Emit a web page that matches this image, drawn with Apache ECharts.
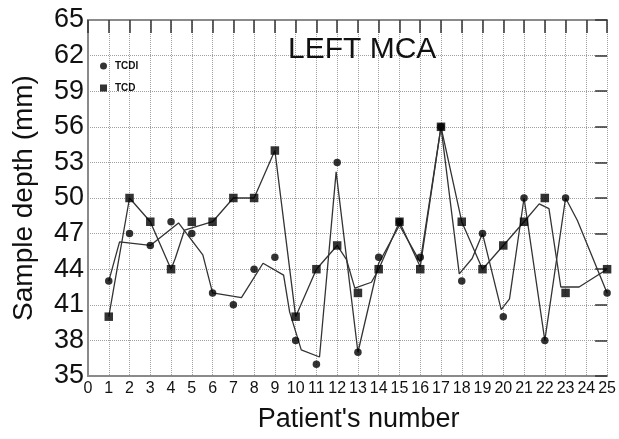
<!DOCTYPE html>
<html>
<head>
<meta charset="utf-8">
<script src="https://cdn.jsdelivr.net/npm/echarts@6/dist/echarts.min.js"></script>
<style>html,body{margin:0;padding:0;background:#fff}#c{width:619px;height:439px}</style>
</head>
<body>
<div id="c"></div>
<script>
// Patient numbers (24 has no recorded markers)
var patients = [1,2,3,4,5,6,7,8,9,10,11,12,13,14,15,16,17,18,19,20,21,22,23,24,25];
// Marker values (mm)
var tcdiValues = [43,47,46,48,47,42,41,44,45,38,36,53,37,45,48,45,56,43,47,40,50,38,50,null,42];
var tcdValues  = [40,50,48,44,48,48,50,50,54,40,44,46,42,44,48,44,56,48,44,46,48,50,42,null,44];
// Fitted line traces
var tcdiLineX = [1,1.52,3,4.36,5.53,6,7.39,8.43,9.42,9.71,10.27,11.15,11.95,13,14,15,16,17,17.88,18.5,19,19.9,20.3,21,22,23,23.57,25];
var tcdiLineY = [43,46.3,46.0,47.9,45.2,42.0,41.6,44.5,43.5,40.4,37.2,36.6,52.2,37,44.5,47.7,44.6,56,43.6,44.9,47,40.6,41.5,50,38,50,48.1,42];
var tcdLineX = [1,2,3,4,4.2,4.65,6,7,8,9,10,11,12,12.45,12.85,13.65,14,15,16,17,18,19,20,21,21.73,22.2,22.77,23.65,25];
var tcdLineY = [40,50,48,44,44.9,47.3,48,50,50,54,40,44,46,44.8,42.4,42.9,44,48,44.2,56,48,44,46,48,49.5,49.1,42.5,42.5,44];
// Axis settings
var xTickMax = 25;
var yMin = 35, yMax = 65, yStep = 3;

function pairs(xs, ys) {
  var out = [];
  for (var i = 0; i < xs.length; i++) {
    if (ys[i] !== null) out.push([xs[i], ys[i]]);
  }
  return out;
}

var FONT = 'Liberation Sans, Arial, sans-serif';
var chart = echarts.init(document.getElementById('c'), null, {renderer: 'canvas'});
var frame = {show: true, lineStyle: {color: '#8a8a8a', width: 2}};
chart.setOption({
  animation: false,
  backgroundColor: '#fff',
  title: {
    text: 'LEFT MCA', left: 283, top: 30,
    textStyle: {fontFamily: FONT, fontSize: 30, fontWeight: 'normal', color: '#111'}
  },
  legend: {
    orient: 'vertical', left: 95, top: 55, itemWidth: 7, itemHeight: 7, itemGap: 10,
    data: [{name: 'TCDI', icon: 'circle'}, {name: 'TCD', icon: 'rect'}],
    textStyle: {fontFamily: FONT, fontSize: 10, fontWeight: 'bold', color: '#111', lineHeight: 12, padding: [0,0,0,3]}
  },
  grid: {left: 88, right: 11, top: 20, bottom: 63, containLabel: false},
  xAxis: [{
    type: 'value', min: 0, max: xTickMax, interval: 1,
    name: "Patient's number", nameLocation: 'middle', nameGap: 30,
    nameTextStyle: {fontFamily: FONT, fontSize: 27, color: '#111', padding: [0,0,0,22]},
    axisLine: frame, axisTick: {show: false},
    axisLabel: {fontFamily: FONT, fontSize: 16, color: '#111', margin: 5},
    splitLine: {show: true, lineStyle: {type: 'dotted', color: '#a0a0a0', width: 1}}
  }, {
    type: 'value', position: 'top', min: 0, max: xTickMax, interval: 1,
    axisLine: frame, axisLabel: {show: false}, splitLine: {show: false},
    axisTick: {show: true, inside: true, length: 13, lineStyle: {color: '#333', width: 1.5}}
  }],
  yAxis: [{
    type: 'value', min: yMin, max: yMax, interval: yStep,
    name: 'Sample depth (mm)', nameLocation: 'middle', nameGap: 50,
    nameTextStyle: {fontFamily: FONT, fontSize: 28, color: '#111'},
    axisLine: frame, axisTick: {show: false},
    axisLabel: {fontFamily: FONT, fontSize: 27, color: '#111', margin: 4},
    splitLine: {show: true, lineStyle: {type: 'dotted', color: '#a0a0a0', width: 1}}
  }, {
    type: 'value', position: 'right', min: yMin, max: yMax, interval: yStep,
    axisLine: frame, axisLabel: {show: false}, splitLine: {show: false}, axisTick: {show: false}
  }, {
    type: 'value', position: 'right', offset: -12, min: yMin, max: yMax, interval: yStep,
    axisLine: {show: false}, axisLabel: {show: false}, splitLine: {show: false},
    axisTick: {show: true, inside: false, length: 12, lineStyle: {color: '#333', width: 1.5}}
  }],
  series: [
    {type: 'line', name: 'TCDI line', data: pairs(tcdiLineX, tcdiLineY), showSymbol: false, symbol: 'none',
     lineStyle: {color: '#333', width: 1.3}, silent: true, z: 2},
    {type: 'line', name: 'TCD line', data: pairs(tcdLineX, tcdLineY), showSymbol: false, symbol: 'none',
     lineStyle: {color: '#333', width: 1.3}, silent: true, z: 2},
    {type: 'scatter', name: 'TCDI', symbol: 'circle', symbolSize: 7.5, data: pairs(patients, tcdiValues),
     itemStyle: {color: '#000'}, z: 3},
    {type: 'scatter', name: 'TCD', symbol: 'rect', symbolSize: 8.5, data: pairs(patients, tcdValues),
     itemStyle: {color: '#000'}, z: 4}
  ]
});
</script>
</body>
</html>
